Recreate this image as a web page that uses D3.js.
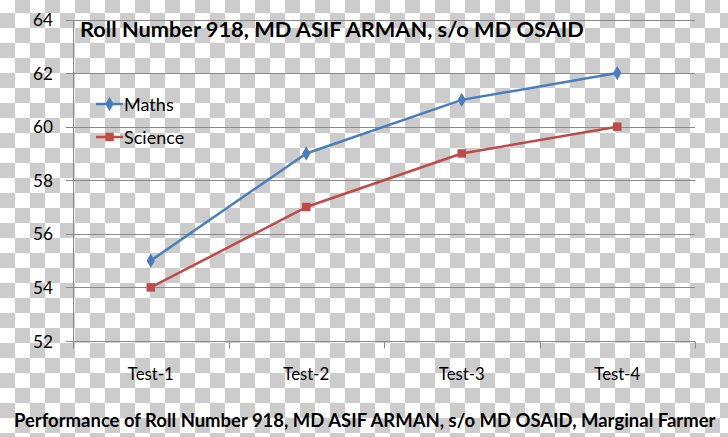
<!DOCTYPE html>
<html>
<head>
<meta charset="utf-8">
<script src="https://cdn.jsdelivr.net/npm/d3@7"></script>
<style>
  html, body { margin: 0; padding: 0; background: #fff; }
  svg { display: block; }
  text { font-family: Lato, "Open Sans", sans-serif; fill: #000; }
</style>
</head>
<body>
<svg id="chart" width="728" height="437"></svg>
<script>
const categories = ["Test-1", "Test-2", "Test-3", "Test-4"];
const mathsValues = [55, 59, 61, 62];
const scienceValues = [54, 57, 59, 60];
const yTicks = [52, 54, 56, 58, 60, 62, 64];
const seriesNames = ["Maths", "Science"];
const chartTitle = "Roll Number 918, MD ASIF ARMAN, s/o MD OSAID";
const bottomTitle = "Performance of Roll Number 918, MD ASIF ARMAN, s/o MD OSAID, Marginal Farmer";

const W = 728, H = 437;
const svg = d3.select("#chart");

// transparency checkerboard background
const defs = svg.append("defs");
const pat = defs.append("pattern").attr("id", "checker")
  .attr("patternUnits", "userSpaceOnUse")
  .attr("x", 0).attr("y", -2).attr("width", 30).attr("height", 30);
pat.append("rect").attr("width", 30).attr("height", 30).attr("fill", "#ffffff");
pat.append("rect").attr("x", 15).attr("y", 0).attr("width", 15).attr("height", 15).attr("fill", "#cccccc");
pat.append("rect").attr("x", 0).attr("y", 15).attr("width", 15).attr("height", 15).attr("fill", "#cccccc");
svg.append("rect").attr("width", W).attr("height", H).attr("fill", "url(#checker)");

const plot = { left: 73, right: 695, top: 19.5, bottom: 341 };

const x = d3.scaleBand().domain(categories).range([plot.left, plot.right]).padding(0);
const y = d3.scaleLinear().domain([52, 64]).range([plot.bottom, plot.top]);

// scale font size so that a sample string reaches a target width
function fitSize(sample, targetWidth, bold) {
  const probe = svg.append("text").attr("font-size", 20)
    .attr("font-weight", bold ? "bold" : "normal").text(sample);
  const w = probe.node().getComputedTextLength();
  probe.remove();
  return 20 * targetWidth / w;
}

const gridColor = "#8a8a8a";

// gridlines
svg.append("g").selectAll("line").data(yTicks).join("line")
  .attr("x1", plot.left - 7).attr("x2", plot.right)
  .attr("y1", d => Math.round(y(d)) + 0.5).attr("y2", d => Math.round(y(d)) + 0.5)
  .attr("stroke", gridColor).attr("stroke-width", 1);

// y axis line
svg.append("line")
  .attr("x1", plot.left + 0.5).attr("x2", plot.left + 0.5)
  .attr("y1", Math.round(y(64)) + 0.5).attr("y2", Math.round(y(52)) + 0.5)
  .attr("stroke", gridColor);

// x axis tick marks between categories
const xEdges = categories.map(c => x(c)).concat([x(categories[categories.length - 1]) + x.bandwidth()]);
svg.append("g").selectAll("line").data(xEdges).join("line")
  .attr("x1", d => Math.round(d) + 0.5).attr("x2", d => Math.round(d) + 0.5)
  .attr("y1", Math.round(y(52)) + 0.5).attr("y2", Math.round(y(52)) + 7.5)
  .attr("stroke", gridColor);

// y tick labels
svg.append("g").selectAll("text").data(yTicks).join("text")
  .attr("x", 53).attr("y", d => y(d) + 6.5)
  .attr("text-anchor", "end")
  .attr("font-size", fitSize("64", 20, false))
  .text(d => d);

// x labels
svg.append("g").selectAll("text").data(categories).join("text")
  .attr("x", d => x(d) + x.bandwidth() / 2).attr("y", 380)
  .attr("text-anchor", "middle")
  .attr("font-size", fitSize("Test-1", 46, false))
  .text(d => d);

// series
const colors = { Maths: "#4a7ebb", Science: "#be4b48" };
const series = [
  { name: seriesNames[0], values: mathsValues, symbol: d3.symbolDiamond },
  { name: seriesNames[1], values: scienceValues, symbol: d3.symbolSquare }
];
const line = d3.line().x((d, i) => x(categories[i]) + x.bandwidth() / 2).y(d => y(d));

series.forEach(s => {
  svg.append("path").datum(s.values)
    .attr("d", line)
    .attr("fill", "none")
    .attr("stroke", colors[s.name])
    .attr("stroke-width", 2.5)
    .attr("stroke-linejoin", "round");
  svg.append("g").selectAll("path").data(s.values).join("path")
    .attr("transform", (d, i) => `translate(${x(categories[i]) + x.bandwidth() / 2},${y(d)})`)
    .attr("d", d3.symbol().type(s.symbol).size(s.symbol === d3.symbolSquare ? 72 : 60))
    .attr("fill", colors[s.name]);
});

// legend
const legendY = [104, 137];
const legendSize = (fitSize("Maths", 50, false) + fitSize("Science", 60, false)) / 2;
series.forEach((s, i) => {
  const g = svg.append("g");
  g.append("line").attr("x1", 96).attr("x2", 123)
    .attr("y1", legendY[i]).attr("y2", legendY[i])
    .attr("stroke", colors[s.name]).attr("stroke-width", 2.5);
  g.append("path")
    .attr("transform", `translate(109.5,${legendY[i]})`)
    .attr("d", d3.symbol().type(s.symbol).size(s.symbol === d3.symbolSquare ? 72 : 60))
    .attr("fill", colors[s.name]);
  g.append("text").attr("x", 124).attr("y", legendY[i] + 6.5)
    .attr("font-size", legendSize)
    .text(s.name);
});

// chart title
svg.append("text").attr("x", 80).attr("y", 37)
  .attr("font-weight", "bold").attr("font-size", fitSize(chartTitle, 504, true))
  .text(chartTitle);

// bottom title
svg.append("text").attr("x", 14).attr("y", 426.5)
  .attr("font-weight", "bold").attr("font-size", fitSize(bottomTitle, 702, true))
  .text(bottomTitle);
</script>
</body>
</html>
